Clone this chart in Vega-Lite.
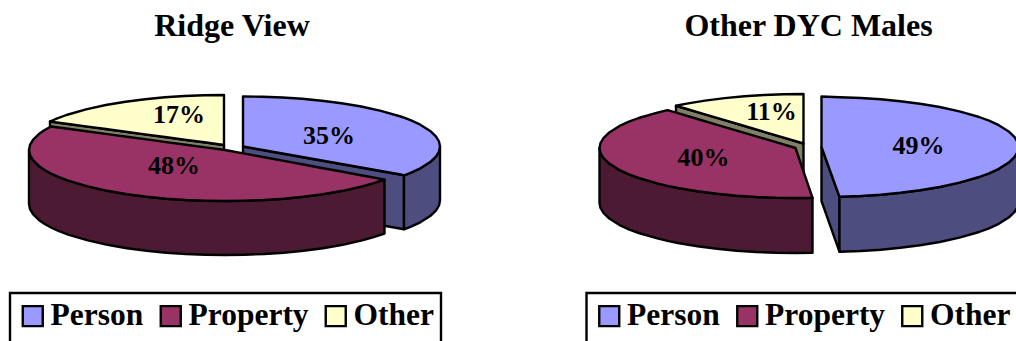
{
  "$schema": "https://vega.github.io/schema/vega-lite/v6.json",
  "padding": {"left": 0, "top": 10, "right": 0, "bottom": 0},
  "background": "white",
  "spacing": 120.5,
  "config": {
    "view": {"stroke": null},
    "title": {"font": "Liberation Serif", "fontWeight": "bold", "fontSize": 32, "color": "black", "offset": -2},
    "legend": {"strokeWidth": 2.4}
  },
  "datasets": {
    "ridgeWalls": [
      {"slice":"Person","part":"cut","x":243,"y":146.5,"y2":200.5},{"slice":"Person","part":"cut","x":404,"y":175.3,"y2":229.3},
      {"slice":"Person","part":"rim","x":404,"y":175.3,"y2":229.3},{"slice":"Person","part":"rim","x":410.5,"y":172.8,"y2":226.8},{"slice":"Person","part":"rim","x":420.3,"y":168.3,"y2":222.3},{"slice":"Person","part":"rim","x":430.2,"y":162.1,"y2":216.1},{"slice":"Person","part":"rim","x":436.1,"y":156.4,"y2":210.4},{"slice":"Person","part":"rim","x":439,"y":151.5,"y2":205.5},{"slice":"Person","part":"rim","x":440,"y":146.5,"y2":200.5},
      {"slice":"Other","part":"cut","x":50,"y":121.5,"y2":175.5},{"slice":"Other","part":"cut","x":224,"y":145,"y2":199},
      {"slice":"Property","part":"rim","x":29,"y":150,"y2":204},{"slice":"Property","part":"rim","x":30,"y":155.1,"y2":209.1},{"slice":"Property","part":"rim","x":33,"y":160.1,"y2":214.1},{"slice":"Property","part":"rim","x":38.8,"y":165.9,"y2":219.9},{"slice":"Property","part":"rim","x":44.7,"y":170,"y2":224},{"slice":"Property","part":"rim","x":51,"y":173.5,"y2":227.5},{"slice":"Property","part":"rim","x":58.4,"y":176.9,"y2":230.9},{"slice":"Property","part":"rim","x":68.2,"y":180.6,"y2":234.6},{"slice":"Property","part":"rim","x":87.8,"y":186.4,"y2":240.4},{"slice":"Property","part":"rim","x":107.4,"y":190.8,"y2":244.8},{"slice":"Property","part":"rim","x":127,"y":194.2,"y2":248.2},{"slice":"Property","part":"rim","x":146.6,"y":196.8,"y2":250.8},{"slice":"Property","part":"rim","x":166.2,"y":198.7,"y2":252.7},{"slice":"Property","part":"rim","x":185.8,"y":200,"y2":254},{"slice":"Property","part":"rim","x":205.4,"y":200.7,"y2":254.7},{"slice":"Property","part":"rim","x":225,"y":201,"y2":255},{"slice":"Property","part":"rim","x":244.6,"y":200.7,"y2":254.7},{"slice":"Property","part":"rim","x":264.2,"y":200,"y2":254},{"slice":"Property","part":"rim","x":283.8,"y":198.7,"y2":252.7},{"slice":"Property","part":"rim","x":303.4,"y":196.8,"y2":250.8},{"slice":"Property","part":"rim","x":323,"y":194.2,"y2":248.2},{"slice":"Property","part":"rim","x":342.6,"y":190.8,"y2":244.8},{"slice":"Property","part":"rim","x":362.2,"y":186.4,"y2":240.4},{"slice":"Property","part":"rim","x":372,"y":183.7,"y2":237.7},{"slice":"Property","part":"rim","x":384.5,"y":179.6,"y2":233.6}
    ],
    "ridgeFaces": [
      {"slice":"Person","x":243,"y":96.5,"y2":146.5},{"slice":"Person","x":262.7,"y":96.75,"y2":150},{"slice":"Person","x":282.4,"y":97.5,"y2":153.5},{"slice":"Person","x":302.1,"y":98.8,"y2":157},{"slice":"Person","x":321.8,"y":100.7,"y2":160.5},{"slice":"Person","x":341.5,"y":103.2,"y2":164},{"slice":"Person","x":361.2,"y":106.5,"y2":167.5},{"slice":"Person","x":380.9,"y":110.8,"y2":171},{"slice":"Person","x":400.6,"y":116.5,"y2":174.5},{"slice":"Person","x":404,"y":117.7,"y2":175.3},{"slice":"Person","x":410.5,"y":120.2,"y2":172.8},{"slice":"Person","x":420.3,"y":124.7,"y2":168.3},{"slice":"Person","x":430.2,"y":130.9,"y2":162.1},{"slice":"Person","x":436.1,"y":136.6,"y2":156.4},{"slice":"Person","x":439,"y":141.5,"y2":151.5},{"slice":"Person","x":440,"y":146.5,"y2":146.5},
      {"slice":"Other","x":50,"y":121.5,"y2":121.5},{"slice":"Other","x":56.6,"y":118.7,"y2":122.4},{"slice":"Other","x":66.4,"y":115,"y2":123.7},{"slice":"Other","x":86.1,"y":109.3,"y2":126.4},{"slice":"Other","x":105.8,"y":105,"y2":129},{"slice":"Other","x":125.5,"y":101.7,"y2":131.7},{"slice":"Other","x":145.2,"y":99.2,"y2":134.4},{"slice":"Other","x":164.9,"y":97.3,"y2":137},{"slice":"Other","x":184.6,"y":96,"y2":139.7},{"slice":"Other","x":204.3,"y":95.25,"y2":142.3},{"slice":"Other","x":224,"y":95,"y2":145},
      {"slice":"Property","x":29,"y":150,"y2":150},{"slice":"Property","x":30,"y":144.9,"y2":155.1},{"slice":"Property","x":33,"y":139.9,"y2":160.1},{"slice":"Property","x":38.8,"y":134.1,"y2":165.9},{"slice":"Property","x":44.7,"y":130,"y2":170},{"slice":"Property","x":51,"y":126.5,"y2":173.5},{"slice":"Property","x":58.4,"y":127.5,"y2":176.9},{"slice":"Property","x":68.2,"y":128.8,"y2":180.6},{"slice":"Property","x":87.8,"y":131.5,"y2":186.4},{"slice":"Property","x":107.4,"y":134.1,"y2":190.8},{"slice":"Property","x":127,"y":136.8,"y2":194.2},{"slice":"Property","x":146.6,"y":139.4,"y2":196.8},{"slice":"Property","x":166.2,"y":142.1,"y2":198.7},{"slice":"Property","x":185.8,"y":144.7,"y2":200},{"slice":"Property","x":205.4,"y":147.4,"y2":200.7},{"slice":"Property","x":225,"y":150,"y2":201},{"slice":"Property","x":244.6,"y":153.6,"y2":200.7},{"slice":"Property","x":264.2,"y":157.3,"y2":200},{"slice":"Property","x":283.8,"y":160.9,"y2":198.7},{"slice":"Property","x":303.4,"y":164.5,"y2":196.8},{"slice":"Property","x":323,"y":168.2,"y2":194.2},{"slice":"Property","x":342.6,"y":171.8,"y2":190.8},{"slice":"Property","x":362.2,"y":175.5,"y2":186.4},{"slice":"Property","x":372,"y":177.3,"y2":183.7},{"slice":"Property","x":384.5,"y":179.6,"y2":179.6}
    ],
    "ridgeLabels": [
      {"slice":"Person","share":0.35,"x":329,"y":136},
      {"slice":"Property","share":0.48,"x":174,"y":166},
      {"slice":"Other","share":0.17,"x":179,"y":115}
    ],
    "dycWalls": [
      {"slice":"Other","part":"cut","x":675.5,"y":105.8,"y2":159.8},{"slice":"Other","part":"cut","x":803,"y":143.5,"y2":197.5},
      {"slice":"Property","part":"rim","x":599,"y":148,"y2":203},{"slice":"Property","part":"rim","x":600,"y":153,"y2":208},{"slice":"Property","part":"rim","x":603,"y":158,"y2":213},{"slice":"Property","part":"rim","x":608.8,"y":163.6,"y2":218.6},{"slice":"Property","part":"rim","x":618.6,"y":169.8,"y2":224.8},{"slice":"Property","part":"rim","x":628.4,"y":174.4,"y2":229.4},{"slice":"Property","part":"rim","x":638.2,"y":178,"y2":233},{"slice":"Property","part":"rim","x":657.8,"y":183.7,"y2":238.7},{"slice":"Property","part":"rim","x":667,"y":185.9,"y2":240.9},{"slice":"Property","part":"rim","x":677.4,"y":188,"y2":243},{"slice":"Property","part":"rim","x":697,"y":191.3,"y2":246.3},{"slice":"Property","part":"rim","x":716.6,"y":193.8,"y2":248.8},{"slice":"Property","part":"rim","x":736.2,"y":195.7,"y2":250.7},{"slice":"Property","part":"rim","x":755.8,"y":197,"y2":252},{"slice":"Property","part":"rim","x":775.4,"y":197.75,"y2":252.75},{"slice":"Property","part":"rim","x":795,"y":198,"y2":253},{"slice":"Property","part":"rim","x":812,"y":197.8,"y2":252.8},
      {"slice":"Person","part":"cut","x":821,"y":147,"y2":201},{"slice":"Person","part":"cut","x":839,"y":196.8,"y2":251.8},
      {"slice":"Person","part":"rim","x":839,"y":196.8,"y2":251.8},{"slice":"Person","part":"rim","x":860.4,"y":196,"y2":251},{"slice":"Person","part":"rim","x":880.1,"y":194.7,"y2":249.7},{"slice":"Person","part":"rim","x":899.8,"y":192.8,"y2":247.8},{"slice":"Person","part":"rim","x":919.5,"y":190.3,"y2":245.3},{"slice":"Person","part":"rim","x":939.2,"y":187,"y2":242},{"slice":"Person","part":"rim","x":958.9,"y":182.7,"y2":237.7},{"slice":"Person","part":"rim","x":978.6,"y":177,"y2":232},{"slice":"Person","part":"rim","x":988.5,"y":173.3,"y2":228.3},{"slice":"Person","part":"rim","x":998.3,"y":168.8,"y2":223.8},{"slice":"Person","part":"rim","x":1008.2,"y":162.6,"y2":217.6},{"slice":"Person","part":"rim","x":1014.1,"y":156.9,"y2":211.9},{"slice":"Person","part":"rim","x":1017,"y":152,"y2":207},{"slice":"Person","part":"rim","x":1018,"y":147,"y2":202}
    ],
    "dycFaces": [
      {"slice":"Person","x":821,"y":96.5,"y2":147},{"slice":"Person","x":839,"y":97.2,"y2":196.8},{"slice":"Person","x":860.4,"y":98,"y2":196},{"slice":"Person","x":880.1,"y":99.3,"y2":194.7},{"slice":"Person","x":899.8,"y":101.2,"y2":192.8},{"slice":"Person","x":919.5,"y":103.7,"y2":190.3},{"slice":"Person","x":939.2,"y":107,"y2":187},{"slice":"Person","x":958.9,"y":111.3,"y2":182.7},{"slice":"Person","x":978.6,"y":117,"y2":177},{"slice":"Person","x":988.5,"y":120.7,"y2":173.3},{"slice":"Person","x":998.3,"y":125.2,"y2":168.8},{"slice":"Person","x":1008.2,"y":131.4,"y2":162.6},{"slice":"Person","x":1014.1,"y":137.1,"y2":156.9},{"slice":"Person","x":1017,"y":142,"y2":152},{"slice":"Person","x":1018,"y":147,"y2":147},
      {"slice":"Other","x":675.5,"y":105.8,"y2":105.8},{"slice":"Other","x":684.8,"y":103.9,"y2":108.5},{"slice":"Other","x":704.5,"y":100.6,"y2":114.4},{"slice":"Other","x":724.2,"y":98.1,"y2":120.2},{"slice":"Other","x":743.9,"y":96.3,"y2":126},{"slice":"Other","x":763.6,"y":95,"y2":131.9},{"slice":"Other","x":783.3,"y":94.25,"y2":137.7},{"slice":"Other","x":803,"y":94,"y2":143.5},
      {"slice":"Property","x":599,"y":148,"y2":148},{"slice":"Property","x":600,"y":143,"y2":153},{"slice":"Property","x":603,"y":138,"y2":158},{"slice":"Property","x":608.8,"y":132.4,"y2":163.6},{"slice":"Property","x":618.6,"y":126.2,"y2":169.8},{"slice":"Property","x":628.4,"y":121.7,"y2":174.4},{"slice":"Property","x":638.2,"y":118,"y2":178},{"slice":"Property","x":657.8,"y":112.3,"y2":183.7},{"slice":"Property","x":667,"y":110.1,"y2":185.9},{"slice":"Property","x":677.4,"y":113.2,"y2":188},{"slice":"Property","x":697,"y":119,"y2":191.3},{"slice":"Property","x":716.6,"y":124.8,"y2":193.8},{"slice":"Property","x":736.2,"y":130.6,"y2":195.7},{"slice":"Property","x":755.8,"y":136.4,"y2":197},{"slice":"Property","x":775.4,"y":142.2,"y2":197.75},{"slice":"Property","x":795,"y":148,"y2":198},{"slice":"Property","x":812,"y":197.8,"y2":197.8}
    ],
    "dycLabels": [
      {"slice":"Person","share":0.49,"x":918,"y":146},
      {"slice":"Property","share":0.40,"x":703,"y":158},
      {"slice":"Other","share":0.11,"x":771,"y":112}
    ]
  },
  "hconcat": [
    {
      "title": "Ridge View",
      "width": 464,
      "height": 300,
      "resolve": {"scale": {"fill": "independent"}},
      "layer": [
        {
          "data": {"name": "ridgeWalls"},
          "mark": {"type": "area", "stroke": "black", "strokeWidth": 2.4, "strokeJoin": "round", "opacity": 1},
          "encoding": {
            "x": {"field": "x", "type": "quantitative", "axis": null, "scale": {"domain": [0, 464], "nice": false, "zero": false}},
            "y": {"field": "y", "type": "quantitative", "axis": null, "scale": {"domain": [341, 41], "nice": false, "zero": false}},
            "y2": {"field": "y2"},
            "detail": {"field": "part"},
            "fill": {"field": "slice", "type": "nominal", "legend": null, "scale": {"domain": ["Person", "Property", "Other"], "range": ["#4D4D80", "#4D1A33", "#808066"]}}
          }
        },
        {
          "data": {"name": "ridgeFaces"},
          "mark": {"type": "area", "stroke": "black", "strokeWidth": 2.4, "strokeJoin": "round", "opacity": 1},
          "encoding": {
            "x": {"field": "x", "type": "quantitative", "axis": null},
            "y": {"field": "y", "type": "quantitative", "axis": null},
            "y2": {"field": "y2"},
            "fill": {
              "field": "slice", "type": "nominal",
              "scale": {"domain": ["Person", "Property", "Other"], "range": ["#9999FF", "#993366", "#FFFFCC"]},
              "legend": {
                "title": " ", "titleOrient": "bottom", "titleFontSize": 8, "titlePadding": 2,
                "orient": "none", "legendX": 10, "legendY": 252, "direction": "horizontal", "columns": 3,
                "strokeColor": "black", "padding": 7, "columnPadding": 11, "symbolType": "square", "symbolSize": 400,
                "symbolStrokeColor": "black", "symbolStrokeWidth": 2.4, "symbolOpacity": 1, "labelFont": "Liberation Serif", "labelFontWeight": "bold",
                "labelFontSize": 31.5, "labelColor": "black", "labelOffset": 2, "labelLimit": 300
              }
            }
          }
        },
        {
          "data": {"name": "ridgeLabels"},
          "mark": {"type": "text", "font": "Liberation Serif", "fontWeight": "bold", "fontSize": 26, "color": "black", "baseline": "middle"},
          "encoding": {
            "x": {"field": "x", "type": "quantitative", "axis": null},
            "y": {"field": "y", "type": "quantitative", "axis": null},
            "text": {"field": "share", "type": "quantitative", "format": ".0%"}
          }
        }
      ]
    },
    {
      "title": "Other DYC Males",
      "width": 436,
      "height": 300,
      "resolve": {"scale": {"fill": "independent"}},
      "layer": [
        {
          "data": {"name": "dycWalls"},
          "mark": {"type": "area", "stroke": "black", "strokeWidth": 2.4, "strokeJoin": "round", "opacity": 1},
          "encoding": {
            "x": {"field": "x", "type": "quantitative", "axis": null, "scale": {"domain": [590, 1026], "nice": false, "zero": false}},
            "y": {"field": "y", "type": "quantitative", "axis": null, "scale": {"domain": [341, 41], "nice": false, "zero": false}},
            "y2": {"field": "y2"},
            "detail": {"field": "part"},
            "fill": {"field": "slice", "type": "nominal", "legend": null, "scale": {"domain": ["Person", "Property", "Other"], "range": ["#4D4D80", "#4D1A33", "#808066"]}}
          }
        },
        {
          "data": {"name": "dycFaces"},
          "mark": {"type": "area", "stroke": "black", "strokeWidth": 2.4, "strokeJoin": "round", "opacity": 1},
          "encoding": {
            "x": {"field": "x", "type": "quantitative", "axis": null},
            "y": {"field": "y", "type": "quantitative", "axis": null},
            "y2": {"field": "y2"},
            "fill": {
              "field": "slice", "type": "nominal",
              "scale": {"domain": ["Person", "Property", "Other"], "range": ["#9999FF", "#993366", "#FFFFCC"]},
              "legend": {
                "title": " ", "titleOrient": "bottom", "titleFontSize": 8, "titlePadding": 2,
                "orient": "none", "legendX": -4, "legendY": 252, "direction": "horizontal", "columns": 3,
                "strokeColor": "black", "padding": 7, "columnPadding": 11, "symbolType": "square", "symbolSize": 400,
                "symbolStrokeColor": "black", "symbolStrokeWidth": 2.4, "symbolOpacity": 1, "labelFont": "Liberation Serif", "labelFontWeight": "bold",
                "labelFontSize": 31.5, "labelColor": "black", "labelOffset": 2, "labelLimit": 300
              }
            }
          }
        },
        {
          "data": {"name": "dycLabels"},
          "mark": {"type": "text", "font": "Liberation Serif", "fontWeight": "bold", "fontSize": 26, "color": "black", "baseline": "middle"},
          "encoding": {
            "x": {"field": "x", "type": "quantitative", "axis": null},
            "y": {"field": "y", "type": "quantitative", "axis": null},
            "text": {"field": "share", "type": "quantitative", "format": ".0%"}
          }
        }
      ]
    }
  ]
}
